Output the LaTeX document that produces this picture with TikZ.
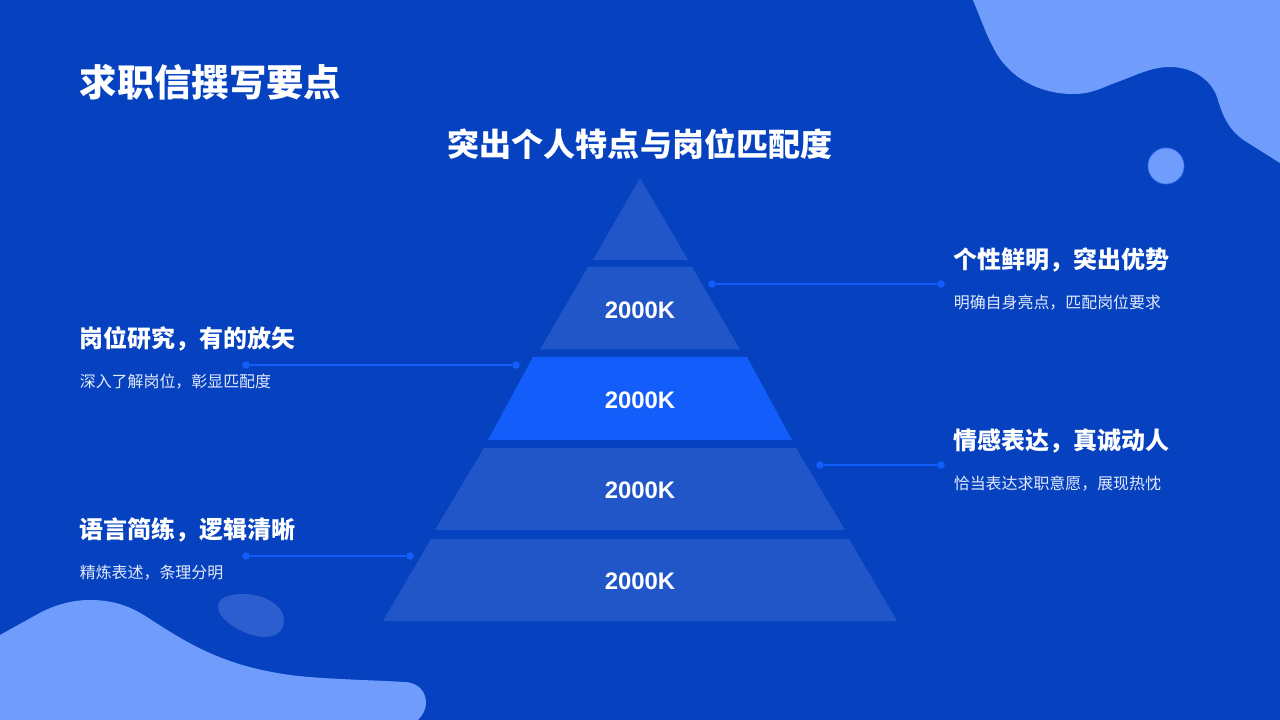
\documentclass[tikz,border=0pt]{standalone}
\usepackage{fontspec}
\setmainfont{Noto Sans CJK SC}
\newfontfamily\latinfont{Liberation Sans}
\usepackage{tikz}
\usetikzlibrary{positioning, calc}
\definecolor{bgblue}{HTML}{0642C0}
\definecolor{paleblue}{HTML}{709DFC}
\definecolor{layerblue}{HTML}{2156C8}
\definecolor{brightblue}{HTML}{135EFB}
\definecolor{spotblue}{HTML}{2C5ED0}
\definecolor{softwhite}{HTML}{E3EAFA}
\tikzset{
  headline/.style={anchor=west, inner sep=0pt, text=white, font=\fontsize{13.65}{16}\selectfont\bfseries},
  subline/.style={anchor=west, inner sep=0pt, text=softwhite, font=\fontsize{9.07}{11}\selectfont},
  amount/.style={inner sep=0pt, text=white, font=\fontsize{13.6}{16}\selectfont\latinfont\bfseries},
  tick/.style={circle, fill=brightblue, inner sep=0pt, minimum width=1.5mm},
  leader/.style={draw=brightblue, line width=0.8pt}
}

\begin{document}
\begin{tikzpicture}[x=0.2mm, y=-0.2mm]
  \useasboundingbox (0,0) rectangle (1280,720);
  \fill [bgblue] (0,0) rectangle (1280,720);

  \fill [paleblue] (973,0) .. controls (982,22) and (986,34) .. (993,47)
    .. controls (1008,78) and (1040,94) .. (1073,94)
    .. controls (1088,94) and (1098,90) .. (1112,84)
    .. controls (1135,76) and (1150,67) .. (1170,67)
    .. controls (1193,67) and (1211,80) .. (1217,97)
    .. controls (1222,114) and (1228,130) .. (1245,141)
    -- (1280,163) -- (1280,0) -- cycle;
  \fill [paleblue] (0,635) -- (36,615)
    .. controls (52,606) and (70,600) .. (90,600)
    .. controls (115,600) and (132,607) .. (150,619)
    .. controls (190,645) and (225,666) .. (290,675)
    .. controls (320,679) and (370,680) .. (405,682)
    .. controls (420,683) and (426,693) .. (426,703)
    .. controls (426,709) and (423,715) .. (418,720)
    -- (0,720) -- cycle;
  \fill [spotblue] (218,606) .. controls (218,598) and (230,594) .. (243,594)
    .. controls (265,594) and (284,606) .. (284,620)
    .. controls (284,631) and (276,637) .. (265,637)
    .. controls (248,637) and (218,622) .. (218,606) -- cycle;
  \node (ball) [circle, fill=paleblue, draw=brightblue!60!paleblue, line width=0.4pt, inner sep=0pt, minimum width=7.2mm] at (1166,166) {};

  \node (title) [anchor=west, inner sep=0pt, text=white, font=\fontsize{21.25}{25}\selectfont\bfseries] at (79.5,82) {求职信撰写要点};
  \node (subtitle) [inner sep=0pt, text=white, font=\fontsize{18.25}{22}\selectfont\bfseries] at (640,144) {突出个人特点与岗位匹配度};

  \fill [layerblue] (640,178) -- (688,260) -- (593,260) -- cycle;
  \fill [layerblue] (588,267) -- (692,267) -- (740,349.5) -- (540,349.5) -- cycle;
  \fill [brightblue] (533,357) -- (747,357) -- (792,440) -- (488,440) -- cycle;
  \fill [layerblue] (484,448) -- (796,448) -- (845,530) -- (435,530) -- cycle;
  \fill [layerblue] (431,539) -- (849,539) -- (897,621) -- (383,621) -- cycle;

  \node (level2) [amount] at (640,310) {2000K};
  \node (level3) [amount] at (640,400) {2000K};
  \node (level4) [amount] at (640,490.5) {2000K};
  \node (level5) [amount] at (640,581) {2000K};

  \node (headR1) [headline] at (953.5,260) {个性鲜明，突出优势};
  \node (textR1) [subline] at (953.5,303) {明确自身亮点，匹配岗位要求};
  \node (headR2) [headline] at (953.5,441) {情感表达，真诚动人};
  \node (textR2) [subline] at (953.5,484) {恰当表达求职意愿，展现热忱};
  \node (headL1) [headline] at (79.5,339) {岗位研究，有的放矢};
  \node (textL1) [subline] at (79.5,382) {深入了解岗位，彰显匹配度};
  \node (headL2) [headline] at (79.5,530) {语言简练，逻辑清晰};
  \node (textL2) [subline] at (79.5,573) {精炼表述，条理分明};

  \node (R1a) [tick] at (712,284) {};
  \node (R1b) [tick] at (941,284) {};
  \node (R2a) [tick] at (820,465) {};
  \node (R2b) [tick] at (941,465) {};
  \node (L1a) [tick] at (246,365) {};
  \node (L1b) [tick] at (516,365) {};
  \node (L2a) [tick] at (246,556) {};
  \node (L2b) [tick] at (410,556) {};

  \path [leader]
  (R1a) edge (R1b)
  (R2a) edge (R2b)
  (L1a) edge (L1b)
  (L2a) edge (L2b);

\end{tikzpicture}
\end{document}
